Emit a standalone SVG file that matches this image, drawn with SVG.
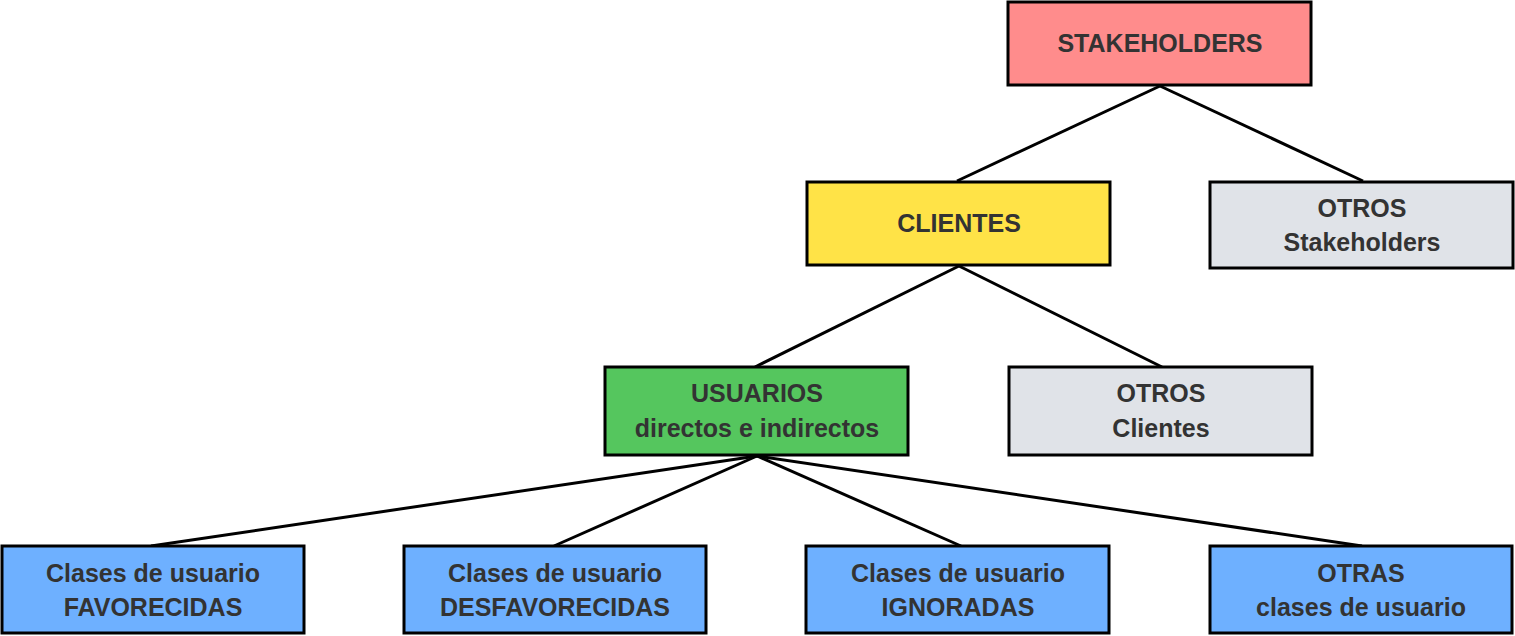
<svg xmlns="http://www.w3.org/2000/svg" width="1515" height="636" viewBox="0 0 1515 636">
<style>
rect{stroke:#000;stroke-width:3}
text{font-family:"Liberation Sans",Arial,sans-serif;font-weight:bold;font-size:25px;fill:#333;text-anchor:middle}
.c line{stroke:#000;stroke-width:3}
</style>
<rect width="1515" height="636" fill="#fff" style="stroke:none"/>
<g class="c" id="connectors">
<line x1="1160" y1="86" x2="957" y2="181"/>
<line x1="1160" y1="86" x2="1363" y2="181"/>
<line x1="959" y1="266" x2="755" y2="367"/>
<line x1="959" y1="266" x2="1162" y2="367"/>
<line x1="757" y1="456" x2="151" y2="546"/>
<line x1="757" y1="456" x2="554" y2="546"/>
<line x1="757" y1="456" x2="961" y2="546"/>
<line x1="757" y1="456" x2="1362" y2="546"/>
</g>
<g id="stakeholders"><rect x="1008" y="2" width="303" height="83" fill="#FF8C8C"/><text x="1160" y="52">STAKEHOLDERS</text></g>
<g id="clientes"><rect x="807" y="182" width="303" height="83" fill="#FFE347"/><text x="959" y="232">CLIENTES</text></g>
<g id="otros-stakeholders"><rect x="1210" y="182" width="303" height="86" fill="#E0E3E8"/><text x="1362" y="217">OTROS</text><text x="1362" y="251">Stakeholders</text></g>
<g id="usuarios"><rect x="605" y="367" width="303" height="88" fill="#55C65E"/><text x="757" y="402">USUARIOS</text><text x="757" y="437">directos e indirectos</text></g>
<g id="otros-clientes"><rect x="1009" y="367" width="303" height="88" fill="#E0E3E8"/><text x="1161" y="402">OTROS</text><text x="1161" y="437">Clientes</text></g>
<g id="favorecidas"><rect x="2" y="546" width="302" height="87" fill="#6EB0FF"/><text x="153" y="582">Clases de usuario</text><text x="153" y="616">FAVORECIDAS</text></g>
<g id="desfavorecidas"><rect x="404" y="546" width="302" height="87" fill="#6EB0FF"/><text x="555" y="582">Clases de usuario</text><text x="555" y="616">DESFAVORECIDAS</text></g>
<g id="ignoradas"><rect x="806" y="546" width="303" height="87" fill="#6EB0FF"/><text x="958" y="582">Clases de usuario</text><text x="958" y="616">IGNORADAS</text></g>
<g id="otras"><rect x="1210" y="546" width="302" height="87" fill="#6EB0FF"/><text x="1361" y="582">OTRAS</text><text x="1361" y="616">clases de usuario</text></g>
</svg>
